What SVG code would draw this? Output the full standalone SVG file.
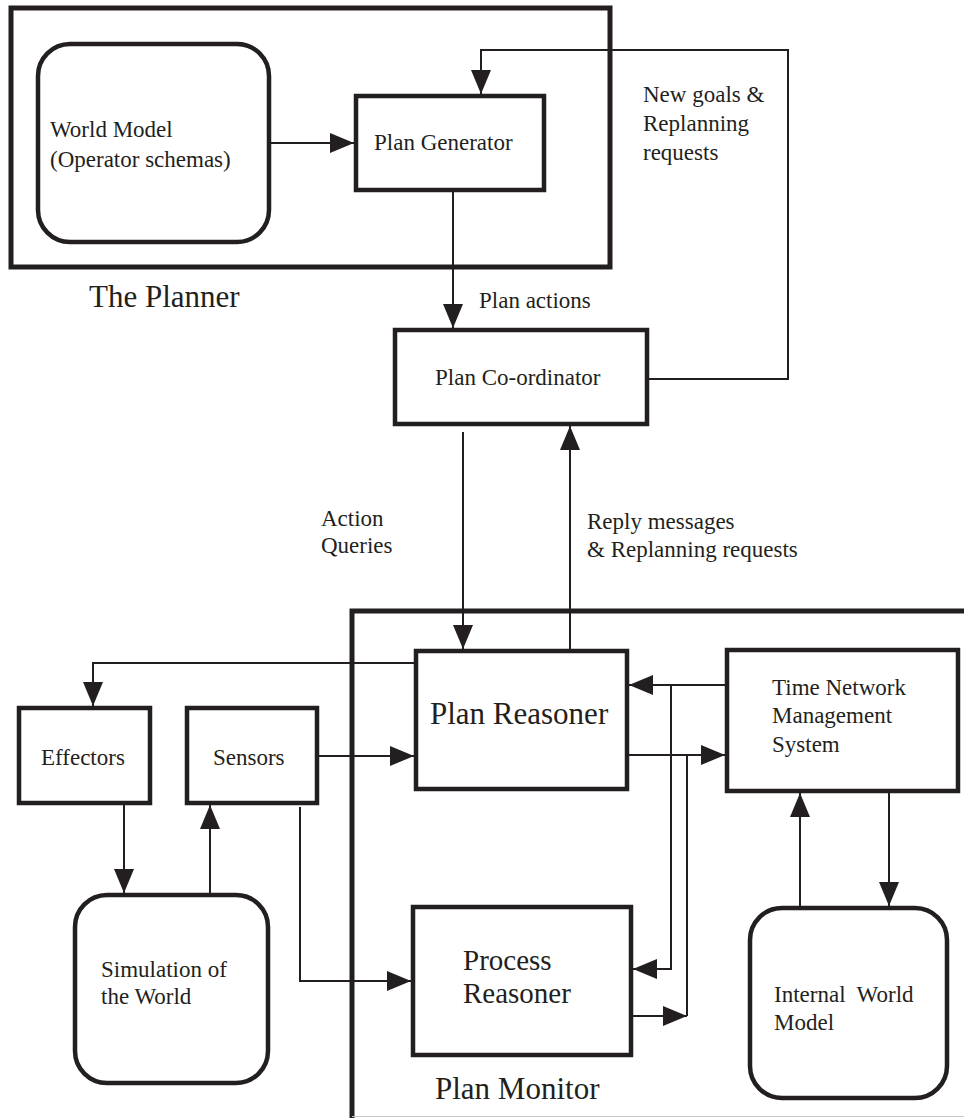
<svg xmlns="http://www.w3.org/2000/svg" width="964" height="1118" viewBox="0 0 964 1118">
<style>
.box{fill:#fff;stroke:#231f20;stroke-width:4.5}
.frame{fill:none;stroke:#231f20;stroke-width:5}
.c{fill:none;stroke:#231f20;stroke-width:2}
.a{marker-end:url(#ah)}
text{font-family:"Liberation Serif","Times New Roman",serif;fill:#231f20}
.s{font-size:23px}
.l{font-size:31px}
.m{font-size:29px}
</style>
<defs>
<marker id="ah" markerUnits="userSpaceOnUse" markerWidth="24" markerHeight="20" refX="24" refY="10" orient="auto">
<path d="M0,0 L24,10 L0,20 Z" fill="#231f20"/>
</marker>
</defs>
<rect width="964" height="1118" fill="#fff"/>

<g id="planner">
<rect class="frame" x="11" y="8" width="599" height="259"/>
<text class="l" x="89" y="307">The Planner</text>
</g>
<g id="plan-monitor">
<path class="frame" d="M352,1118 V611 H964"/>
<line x1="352" y1="1116.5" x2="964" y2="1116.5" stroke="#c8c8c8" stroke-width="1"/>
<text class="l" x="435" y="1099">Plan Monitor</text>
</g>

<g id="world-model">
<rect class="box" x="38" y="44" width="231" height="198" rx="32"/>
<text class="s" x="50" y="137">World Model</text>
<text class="s" x="50" y="167">(Operator schemas)</text>
</g>
<g id="plan-generator">
<rect class="box" x="356" y="96" width="188" height="94"/>
<text class="s" x="374" y="150">Plan Generator</text>
</g>
<g id="plan-coordinator">
<rect class="box" x="395" y="330" width="252" height="94"/>
<text class="s" x="435" y="385">Plan Co-ordinator</text>
</g>
<g id="plan-reasoner">
<rect class="box" x="416" y="651" width="211" height="138"/>
<text class="l" x="430" y="724">Plan Reasoner</text>
</g>
<g id="effectors">
<rect class="box" x="19" y="708" width="131" height="95"/>
<text class="s" x="41" y="765">Effectors</text>
</g>
<g id="sensors">
<rect class="box" x="187" y="708" width="130" height="95"/>
<text class="s" x="213" y="765">Sensors</text>
</g>
<g id="simulation">
<rect class="box" x="75" y="895" width="193" height="188" rx="32"/>
<text class="s" x="101" y="977">Simulation of</text>
<text class="s" x="101" y="1004">the World</text>
</g>
<g id="process-reasoner">
<rect class="box" x="413" y="907" width="218" height="148"/>
<text class="m" x="463" y="970">Process</text>
<text class="m" x="463" y="1003">Reasoner</text>
</g>
<g id="time-network">
<rect class="box" x="727" y="650" width="231" height="141"/>
<text class="s" x="772" y="695">Time Network</text>
<text class="s" x="772" y="723">Management</text>
<text class="s" x="772" y="752">System</text>
</g>
<g id="internal-world-model">
<rect class="box" x="750" y="908" width="197" height="190" rx="32"/>
<text class="s" x="774" y="1002" style="white-space:pre">Internal  World</text>
<text class="s" x="774" y="1030">Model</text>
</g>

<g id="connectors">
<path class="c a" d="M269,143 H354"/>
<path class="c a" d="M647,379 H788 V50 H481 V94"/>
<text class="s" x="643" y="102">New goals &amp;</text>
<text class="s" x="643" y="131">Replanning</text>
<text class="s" x="643" y="160">requests</text>
<path class="c a" d="M453,190 V328"/>
<text class="s" x="479" y="308">Plan actions</text>
<path class="c a" d="M463,432 V649"/>
<text class="s" x="321" y="526">Action</text>
<text class="s" x="321" y="553">Queries</text>
<path class="c a" d="M570,651 V426"/>
<text class="s" x="587" y="529">Reply messages</text>
<text class="s" x="587" y="557">&amp; Replanning requests</text>
<path class="c a" d="M414,663 H93 V706"/>
<path class="c a" d="M317,756 H414"/>
<path class="c a" d="M124,803 V893"/>
<path class="c a" d="M210,895 V805"/>
<path class="c a" d="M300,807 V981 H411"/>
<path class="c a" d="M889,791 V906"/>
<path class="c a" d="M800,908 V793"/>
<path class="c a" d="M725,685 H629"/>
<path class="c a" d="M671,685 V969 H633"/>
<path class="c a" d="M629,755 H725"/>
<path class="c a" d="M633,1016 H687"/>
<path class="c" d="M687,1016 V755"/>
</g>
</svg>
